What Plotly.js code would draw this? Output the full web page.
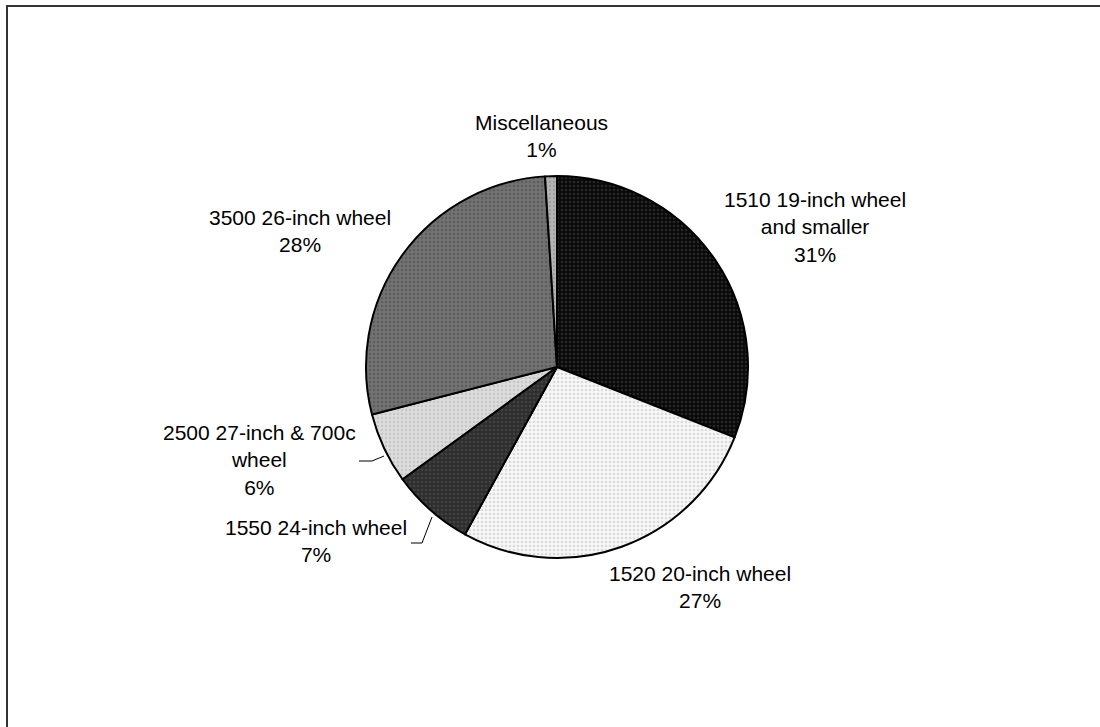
<!DOCTYPE html>
<html>
<head>
<meta charset="utf-8">
<script src="https://cdn.plot.ly/plotly-3.0.1.min.js"></script>
<style>
  html, body { margin: 0; padding: 0; background: #ffffff; }
  #chart { width: 1100px; height: 727px; }
</style>
</head>
<body>
<div id="chart"></div>
<script>
// ---- data ----
var categories = [
  "1510 19-inch wheel and smaller",
  "1520 20-inch wheel",
  "1550 24-inch wheel",
  "2500 27-inch & 700c wheel",
  "3500 26-inch wheel",
  "Miscellaneous"
];
var labelLines = [
  "1510 19-inch wheel<br>and smaller",
  "1520 20-inch wheel",
  "1550 24-inch wheel",
  "2500 27-inch & 700c<br>wheel",
  "3500 26-inch wheel",
  "Miscellaneous"
];
var shares = [31, 27, 7, 6, 28, 1];

// ---- styles ----
var W = 1100, H = 727;
var bgColors = ["#0a0a0a", "#f6f6f6", "#2e2e2e", "#dcdcdc", "#727272", "#b4b4b4"];
var fgColors = ["#444444", "#bdbdbd", "#555555", "#b0b0b0", "#4a4a4a", "#8a8a8a"];

// pie geometry (pixels)
var cx = 557, cy = 367, r = 191;
function px(x) { return x / W; }
function py(y) { return 1 - y / H; }

// label placement (pixel centres)
var labelPos = [
  [815, 227], [700, 587], [316, 541], [259, 460], [300, 231], [541, 136]
];

var total = shares.reduce(function (a, b) { return a + b; }, 0);
var annotations = categories.map(function (c, i) {
  var pct = Math.round(shares[i] / total * 100) + "%";
  return {
    xref: "paper", yref: "paper",
    x: px(labelPos[i][0]), y: py(labelPos[i][1]),
    xanchor: "center", yanchor: "middle",
    text: labelLines[i] + "<br>" + pct,
    showarrow: false, align: "center",
    font: { family: "Liberation Sans, Arial, sans-serif", size: 21, color: "#000000" }
  };
});

var trace = {
  type: "pie",
  labels: categories,
  values: shares,
  sort: false,
  direction: "clockwise",
  rotation: 0,
  textinfo: "none",
  hoverinfo: "label+percent",
  marker: {
    colors: bgColors,
    line: { color: "#000000", width: 2 },
    pattern: {
      shape: ".",
      bgcolor: bgColors,
      fgcolor: fgColors,
      size: 4,
      solidity: 0.3,
      fillmode: "overlay"
    }
  },
  domain: { x: [px(cx - r), px(cx + r)], y: [py(cy + r), py(cy - r)] },
  showlegend: false
};

var layout = {
  width: W, height: H,
  margin: { l: 0, r: 0, t: 0, b: 0 },
  paper_bgcolor: "#ffffff",
  showlegend: false,
  annotations: annotations,
  shapes: [
    { type: "rect", xref: "paper", yref: "paper",
      x0: px(7), y0: py(6), x1: px(1112), y1: py(740),
      line: { color: "#333333", width: 2 }, fillcolor: "rgba(0,0,0,0)" },
    { type: "path", xref: "paper", yref: "paper",
      path: "M " + px(359) + " " + py(461) + " L " + px(372) + " " + py(461) + " L " + px(384) + " " + py(456),
      line: { color: "#000000", width: 1 } },
    { type: "path", xref: "paper", yref: "paper",
      path: "M " + px(411) + " " + py(543) + " L " + px(422) + " " + py(543) + " L " + px(432) + " " + py(517),
      line: { color: "#000000", width: 1 } }
  ]
};

Plotly.newPlot("chart", [trace], layout, { staticPlot: true, displayModeBar: false });
</script>
</body>
</html>
